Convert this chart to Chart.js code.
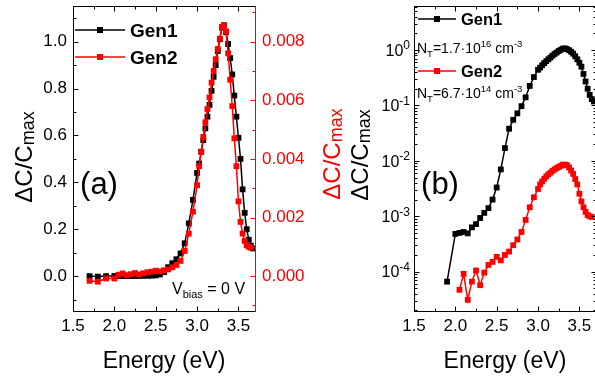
<!DOCTYPE html>
<html>
<head>
<meta charset="utf-8">
<script src="https://cdn.jsdelivr.net/npm/chart.js@4.4.1/dist/chart.umd.min.js"></script>
<style>
  html, body { margin: 0; padding: 0; background: #fff; overflow: hidden; }
  #marco { position: relative; width: 595px; height: 380px; overflow: hidden; }
  canvas { position: absolute; top: 0; left: 0; }
</style>
</head>
<body>
<div id="marco">
  <canvas id="graficoA" width="595" height="380"></canvas>
  <canvas id="graficoB" width="600" height="380"></canvas>
</div>
<script>
// Energía de excitación (eV)
const energia = [1.7, 1.8, 1.9, 2.0, 2.05, 2.1, 2.15, 2.2, 2.25, 2.3, 2.35, 2.4, 2.45, 2.5, 2.55,
  2.6, 2.65, 2.7, 2.75, 2.8, 2.85, 2.9, 2.95, 3.0, 3.025, 3.05, 3.075, 3.1, 3.125, 3.15, 3.175,
  3.2, 3.225, 3.25, 3.275, 3.3, 3.325, 3.35, 3.375, 3.4, 3.425, 3.45, 3.475, 3.5, 3.525, 3.55,
  3.575, 3.6, 3.625, 3.65, 3.675];

// ΔC/Cmax muestra Gen1
const gen1 = [0, -0.002, 6.6e-5, 4.8e-4, 5.0e-4, 5.2e-4, 4.9e-4, 6.3e-4, 7.2e-4, 9.3e-4, 1.15e-3,
  1.4e-3, 2.0e-3, 3.3e-3, 7.0e-3, 0.017, 0.038, 0.055, 0.072, 0.097, 0.14, 0.225, 0.325, 0.44,
  0.48, 0.53, 0.58, 0.63, 0.68, 0.73, 0.79, 0.85, 0.90, 0.96, 1.01, 1.06, 1.07, 1.04, 0.99, 0.93,
  0.86, 0.77, 0.68, 0.59, 0.50, 0.37, 0.27, 0.20, 0.155, 0.13, 0.118];

// ΔC/Cmax muestra Gen2
const gen2 = [-1.6e-4, -1.9e-4, -8e-5, -8e-5, 4.7e-5, 9.1e-5, 3.1e-5, 6.6e-5, 1.05e-4, 5.7e-5,
  9.6e-5, 1.32e-4, 1.5e-4, 1.85e-4, 1.6e-4, 2.0e-4, 2.3e-4, 3.0e-4, 3.8e-4, 5.2e-4, 8.6e-4,
  1.45e-3, 2.2e-3, 3.1e-3, 3.75e-3, 4.25e-3, 4.75e-3, 5.25e-3, 5.7e-3, 6.1e-3, 6.6e-3, 7.0e-3,
  7.4e-3, 7.75e-3, 8.1e-3, 8.5e-3, 8.55e-3, 8.35e-3, 7.6e-3, 6.7e-3, 5.8e-3, 4.7e-3, 3.75e-3,
  2.55e-3, 1.85e-3, 1.45e-3, 1.2e-3, 1.05e-3, 1.0e-3, 0.97e-3, null];

// Marcas de los ejes
const ticksEnergia = [1.5, 2.0, 2.5, 3.0, 3.5];
const ticksIzq = [0.0, 0.2, 0.4, 0.6, 0.8, 1.0];
const ticksDer = [0.000, 0.002, 0.004, 0.006, 0.008];
const decadas = [-4, -3, -2, -1, 0];

const FUENTE = '"Liberation Sans", Arial, Helvetica, sans-serif';
const NEGRO = '#000000';
const ROJO = '#ff0000';

Chart.defaults.font.family = FUENTE;
Chart.defaults.color = NEGRO;

function fuente(tam, negrita) {
    return (negrita ? 'bold ' : '') + tam + 'px ' + FUENTE;
}

// Texto con sub/superíndices: partes = [texto, tamaño, desplazamientoY, negrita]
function anchoRico(ctx, partes) {
    let w = 0;
    partes.forEach(p => { ctx.font = fuente(p[1], p[3]); w += ctx.measureText(p[0]).width; });
    return w;
}

function textoRico(ctx, x, y, partes, alinear, color) {
    const w = anchoRico(ctx, partes);
    let cx = alinear === 'center' ? x - w / 2 : (alinear === 'right' ? x - w : x);
    ctx.fillStyle = color;
    ctx.textAlign = 'left';
    ctx.textBaseline = 'alphabetic';
    partes.forEach(p => {
        ctx.font = fuente(p[1], p[3]);
        ctx.fillText(p[0], cx, y + (p[2] || 0));
        cx += ctx.measureText(p[0]).width;
    });
}

function textoVertical(ctx, x, y, partes, color) {
    ctx.save();
    ctx.translate(x, y);
    ctx.rotate(-Math.PI / 2);
    textoRico(ctx, 0, 0, partes, 'center', color);
    ctx.restore();
}

// Marcas hacia dentro en los ejes horizontales (abajo y arriba)
function marcasX(ctx, escala, valores, largo, T, B) {
    valores.forEach(v => {
        if (v < escala.min - 1e-9 || v > escala.max + 1e-9) return;
        const px = Math.round(escala.getPixelForValue(v)) + 0.5;
        ctx.moveTo(px, B); ctx.lineTo(px, B - largo);
        ctx.moveTo(px, T); ctx.lineTo(px, T + largo);
    });
}

// Marcas hacia dentro en un eje vertical
function marcasY(ctx, escala, valores, largo, x, dir) {
    valores.forEach(v => {
        if (v < escala.min || v > escala.max) return;
        const py = Math.round(escala.getPixelForValue(v)) + 0.5;
        ctx.moveTo(x, py); ctx.lineTo(x + dir * largo, py);
    });
}

function pasos(desde, hasta, paso) {
    const r = [];
    for (let v = desde; v <= hasta + paso / 1000; v += paso) r.push(Math.round(v * 1e6) / 1e6);
    return r;
}

function itemLeyenda(ctx, x1, x2, y, color, xt, base, texto, tam) {
    ctx.strokeStyle = color;
    ctx.lineWidth = 1.5;
    ctx.beginPath();
    ctx.moveTo(x1, y); ctx.lineTo(x2, y);
    ctx.stroke();
    ctx.fillStyle = color;
    const c = (x1 + x2) / 2;
    ctx.fillRect(c - 3, y - 3, 6, 6);
    textoRico(ctx, xt, base, [[texto, tam, 0, true]], 'left', NEGRO);
}

const tituloY = [['\u0394C/C', 24], ['max', 18, 2]];

function serie(valores, color, eje, orden, soloPositivos) {
    return {
        data: energia.map((e, i) => ({
            x: e,
            y: (valores[i] === null || (soloPositivos && valores[i] <= 0)) ? null : valores[i]
        })),
        yAxisID: eje,
        borderColor: color,
        backgroundColor: color,
        borderWidth: 1.5,
        pointStyle: 'rect',
        pointRadius: 4.1,
        pointBorderWidth: 0,
        pointHoverRadius: 4.1,
        tension: 0,
        order: orden
    };
}

function ejeEnergia() {
    return {
        type: 'linear', position: 'bottom', min: 1.5, max: 3.7,
        grid: { display: false, drawTicks: false },
        border: { display: false },
        ticks: {
            autoSkip: false, maxRotation: 0, padding: 4, color: NEGRO,
            font: { size: 17 },
            callback: v => v.toFixed(1)
        },
        afterBuildTicks: s => { s.ticks = ticksEnergia.map(v => ({ value: v })); },
        afterFit: s => { s.height = 68; s.paddingLeft = 0; s.paddingRight = 0; }
    };
}

// Panel (a): escala lineal con doble eje
const decoracionA = {
    id: 'decoracionA',
    afterDraw(chart) {
        const { ctx, chartArea: a, scales } = chart;
        const L = Math.round(a.left) + 0.5, R = Math.round(a.right) + 0.5;
        const T = Math.round(a.top) + 0.5, B = Math.round(a.bottom) - 0.5;
        ctx.save();
        ctx.lineWidth = 1;
        ctx.strokeStyle = NEGRO;
        ctx.beginPath();
        ctx.moveTo(R, T); ctx.lineTo(L, T); ctx.lineTo(L, B); ctx.lineTo(R, B);
        marcasX(ctx, scales.x, ticksEnergia, 5, T, B);
        marcasX(ctx, scales.x, pasos(1.75, 3.75, 0.5), 3, T, B);
        marcasY(ctx, scales.y, ticksIzq, 5, L, 1);
        marcasY(ctx, scales.y, pasos(-0.1, 1.1, 0.2), 3, L, 1);
        ctx.stroke();

        ctx.strokeStyle = ROJO;
        ctx.beginPath();
        ctx.moveTo(R, T - 0.5); ctx.lineTo(R, B + 0.5);
        marcasY(ctx, scales.y1, ticksDer, 5, R, -1);
        marcasY(ctx, scales.y1, pasos(-0.001, 0.009, 0.002), 3, R, -1);
        ctx.stroke();

        // títulos de ejes
        textoVertical(ctx, 32, 157, tituloY, NEGRO);
        textoVertical(ctx, 340, 154, tituloY, ROJO);
        textoRico(ctx, (a.left + a.right) / 2, 368, [['Energy (eV)', 23]], 'center', NEGRO);

        textoRico(ctx, 99, 193.5, [['(a)', 31]], 'center', NEGRO);
        textoRico(ctx, 172, 293.5, [['V', 16], ['bias', 11, 4], [' = 0 V', 16]], 'left', NEGRO);

        itemLeyenda(ctx, 75, 125, 30, NEGRO, 130, 36.5, 'Gen1', 19);
        itemLeyenda(ctx, 75, 125, 57, ROJO, 130, 63.5, 'Gen2', 19);
        ctx.restore();
    }
};

new Chart(document.getElementById('graficoA'), {
    type: 'line',
    data: {
        datasets: [
            serie(gen1, NEGRO, 'y', 1, false),
            serie(gen2, ROJO, 'y1', 0, false)
        ]
    },
    options: {
        responsive: false,
        animation: false,
        devicePixelRatio: 1,
        layout: { padding: { left: 0, top: 6, right: 280, bottom: 0 } },
        plugins: { legend: { display: false }, tooltip: { enabled: false } },
        scales: {
            x: ejeEnergia(),
            y: {
                type: 'linear', position: 'left', min: -0.153, max: 1.152,
                grid: { display: false, drawTicks: false },
                border: { display: false },
                ticks: { autoSkip: false, padding: 6, color: NEGRO, font: { size: 17 }, callback: v => v.toFixed(1) },
                afterBuildTicks: s => { s.ticks = ticksIzq.map(v => ({ value: v })); },
                afterFit: s => { s.width = 73; s.paddingTop = 0; s.paddingBottom = 0; }
            },
            y1: {
                type: 'linear', position: 'right', min: -0.001224, max: 0.009216,
                grid: { display: false, drawTicks: false },
                border: { display: false },
                ticks: { autoSkip: false, padding: 7, color: ROJO, font: { size: 17 }, callback: v => v.toFixed(3) },
                afterBuildTicks: s => { s.ticks = ticksDer.map(v => ({ value: v })); },
                afterFit: s => { s.width = 60; s.paddingTop = 0; s.paddingBottom = 0; }
            }
        }
    },
    plugins: [decoracionA]
});

// Panel (b): escala logarítmica
const decoracionB = {
    id: 'decoracionB',
    afterDraw(chart) {
        const { ctx, chartArea: a, scales } = chart;
        const L = Math.round(a.left) + 0.5, R = Math.round(a.right) + 0.5;
        const T = Math.round(a.top) + 0.5, B = Math.round(a.bottom) - 0.5;
        const menores = [];
        for (let n = -5; n <= 0; n++) {
            for (let k = 2; k <= 9; k++) menores.push(k * Math.pow(10, n));
        }
        const mayores = decadas.map(n => Math.pow(10, n));
        ctx.save();
        ctx.lineWidth = 1;
        ctx.strokeStyle = NEGRO;
        ctx.beginPath();
        ctx.moveTo(L, T); ctx.lineTo(R, T); ctx.lineTo(R, B); ctx.lineTo(L, B); ctx.closePath();
        marcasX(ctx, scales.x, ticksEnergia, 5, T, B);
        marcasX(ctx, scales.x, pasos(1.75, 3.75, 0.5), 3, T, B);
        marcasY(ctx, scales.y, mayores, 5, L, 1);
        marcasY(ctx, scales.y, menores, 3, L, 1);
        marcasY(ctx, scales.y, mayores, 5, R, -1);
        marcasY(ctx, scales.y, menores, 3, R, -1);
        ctx.stroke();

        // etiquetas de décadas 10^n
        decadas.forEach(n => {
            const py = scales.y.getPixelForValue(Math.pow(10, n));
            textoRico(ctx, a.left - 4, py + 5.7, [['10', 16], [String(n), 12, -6.3]], 'right', NEGRO);
        });

        textoVertical(ctx, 368, 155, tituloY, NEGRO);
        textoRico(ctx, (a.left + a.right) / 2, 368, [['Energy (eV)', 23]], 'center', NEGRO);
        textoRico(ctx, 440, 193.5, [['(b)', 31]], 'center', NEGRO);

        itemLeyenda(ctx, 418, 456, 19, NEGRO, 461, 25, 'Gen1', 16.5);
        textoRico(ctx, 417, 53, [['N', 14], ['T', 9.5, 3.5], ['=1.7\u00b710', 14], ['16', 9.5, -6.5],
            [' cm', 14], ['-3', 9.5, -6.5]], 'left', NEGRO);
        itemLeyenda(ctx, 418, 456, 71, ROJO, 461, 77, 'Gen2', 16.5);
        textoRico(ctx, 417, 98, [['N', 14], ['T', 9.5, 3.5], ['=6.7\u00b710', 14], ['14', 9.5, -6.5],
            [' cm', 14], ['-3', 9.5, -6.5]], 'left', NEGRO);
        ctx.restore();
    }
};

new Chart(document.getElementById('graficoB'), {
    type: 'line',
    data: {
        datasets: [
            serie(gen1, NEGRO, 'y', 1, true),
            serie(gen2, ROJO, 'y', 0, true)
        ]
    },
    options: {
        responsive: false,
        animation: false,
        devicePixelRatio: 1,
        layout: { padding: { left: 0, top: 6, right: 2, bottom: 0 } },
        plugins: { legend: { display: false }, tooltip: { enabled: false } },
        scales: {
            x: ejeEnergia(),
            y: {
                type: 'logarithmic', position: 'left', min: 1.87e-5, max: 6.23,
                grid: { display: false, drawTicks: false },
                border: { display: false },
                ticks: { display: false },
                afterFit: s => { s.width = 414; s.paddingTop = 0; s.paddingBottom = 0; }
            }
        }
    },
    plugins: [decoracionB]
});
</script>
</body>
</html>
